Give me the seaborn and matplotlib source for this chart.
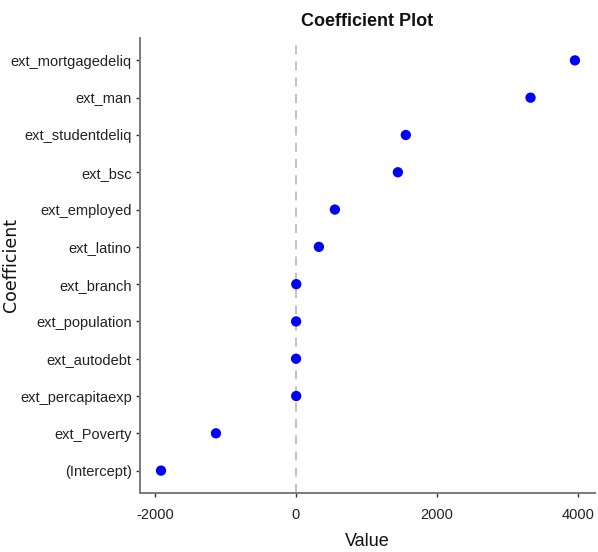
import matplotlib
matplotlib.use("Agg")
import matplotlib.pyplot as plt
import seaborn as sns
import pandas as pd

coefficients = ["ext_mortgagedeliq", "ext_man", "ext_studentdeliq", "ext_bsc",
                "ext_employed", "ext_latino", "ext_branch", "ext_population",
                "ext_autodebt", "ext_percapitaexp", "ext_Poverty", "(Intercept)"]
values = [3960, 3330, 1560, 1447, 553, 326, 5, 3, 2, 4, -1135, -1915]

df = pd.DataFrame({"Coefficient": coefficients, "Value": values})

sns.set_theme(style="white")
plt.rcParams['font.family'] = ['Liberation Sans', 'DejaVu Sans']

fig = plt.figure(figsize=(5.98, 5.52), dpi=100)
ax = fig.add_axes([140/598, 1 - 493/552, 455/598, 455/552])

ax.axvline(0, color="#bdbdbd", linestyle=(0, (5, 4)), linewidth=1.3, zorder=1)
sns.scatterplot(data=df, x="Value", y="Coefficient", color="#0000ff", s=55,
                edgecolor="none", ax=ax, zorder=3)

ax.set_xlim(-2213, 4245)
ax.set_ylim(len(coefficients) - 0.4, -0.6)
ax.set_xticks([-2000, 0, 2000, 4000])
ax.set_xticklabels(["-2000", "0", "2000", "4000"])

for side in ["top", "right"]:
    ax.spines[side].set_visible(False)
for side in ["left", "bottom"]:
    ax.spines[side].set_color("#7a7a7a")
    ax.spines[side].set_linewidth(1.4)
ax.tick_params(axis="both", which="both", length=3, width=1, color="#333333",
               labelsize=10.5, labelcolor="#222222", left=True, bottom=True)
ax.tick_params(axis="y", pad=3)
ax.tick_params(axis="x", pad=8)

ax.set_xlabel("Value", fontsize=13, color="#111111", labelpad=8)
ax.set_ylabel("Coefficient", fontsize=12.5, color="#111111",
              family=["DejaVu Sans"])
ax.yaxis.set_label_coords((20 - 140) / 455, 0.5)
ax.set_title("Coefficient Plot", fontsize=13, fontweight="bold", color="#111111", pad=9)

fig.savefig("out.png", dpi=100)
